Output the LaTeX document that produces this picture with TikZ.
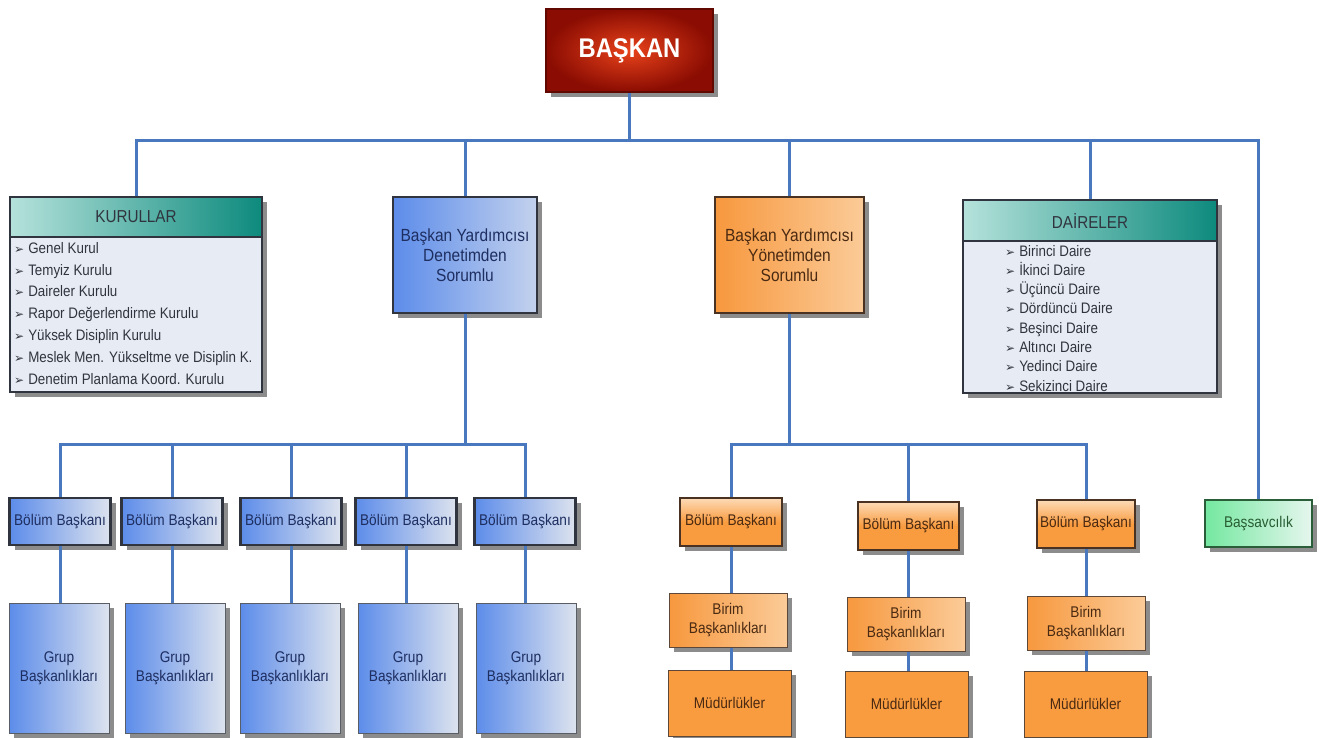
\documentclass[tikz,border=0pt]{standalone}
\usepackage{fontspec}
\setmainfont{Liberation Sans}[FakeStretch=0.88]
\newfontfamily\symf{DejaVu Sans}
\usetikzlibrary{shadows}
\definecolor{connc}{HTML}{4A78BE}
\definecolor{bdark}{HTML}{30343E}
\definecolor{blueL}{HTML}{5C8CEA}
\definecolor{blueR}{HTML}{DDE3EE}
\definecolor{navy}{HTML}{1E2E60}
\definecolor{brownt}{HTML}{4A2A12}
\definecolor{obord}{HTML}{4A3222}
\definecolor{orgL}{HTML}{F7983E}
\definecolor{orgR}{HTML}{FBCB98}
\definecolor{orgM}{HTML}{F99C40}
\definecolor{tealD}{HTML}{0D8A7D}
\definecolor{tealL}{HTML}{B5E2DB}
\definecolor{listbg}{HTML}{E7EBF3}
\definecolor{redD}{HTML}{8A0C02}
\definecolor{redL}{HTML}{E8421A}
\definecolor{grnL}{HTML}{74E8A0}
\definecolor{grnR}{HTML}{E6F6EE}
\definecolor{grnB}{HTML}{2A5E38}
\newcommand{\bul}{{\symf\fontsize{12}{12}\selectfont ➢}\hspace{4pt}}
\begin{document}
\begin{tikzpicture}[x=1pt,y=-1pt,
  conn/.style={draw=connc,line width=3pt},
  box/.style={rectangle,inner sep=0pt,align=center,font=\fontsize{15.5}{19.5}\selectfont},
  shad/.style={drop shadow={shadow xshift=5pt,shadow yshift=-5pt,fill=black,opacity=0.45}},
  bolumB/.style={box,shad,draw=bdark,line width=2.8pt,left color=blueL,right color=blueR,text=navy,minimum width=101,minimum height=47},
  grupB/.style={box,shad,draw=bdark!80,line width=1pt,left color=blueL,right color=blueR,text=navy,minimum width=100,minimum height=130},
  bolumO/.style={box,shad,draw=obord,line width=2.8pt,top color=orgR!70!white,bottom color=orgM,middle color=orgM,text=brownt,minimum height=48},
  birimO/.style={box,shad,draw=obord!90,line width=1pt,left color=orgL,right color=orgR,text=brownt,minimum width=118,minimum height=54},
  mudO/.style={box,shad,draw=obord!90,line width=1pt,fill=orgM,text=brownt,minimum width=123,minimum height=66},
  listbox/.style={box,shad,draw=bdark,line width=1.6pt,fill=listbg},
  header/.style={box,draw=bdark,line width=1.6pt,left color=tealL,right color=tealD,text=bdark,font=\fontsize{17.3}{18}\selectfont},
  item/.style={anchor=base west,inner sep=0pt,text=bdark,font=\fontsize{15.2}{16}\selectfont},
  vpbox/.style={box,shad,line width=2.8pt,minimum height=116,font=\fontsize{17.6}{20}\selectfont}
]
\useasboundingbox (0,0) rectangle (1319,738);

% top
\node[box,shad,draw=redD!70!black,line width=2.5pt,inner color=redL,outer color=redD,
  minimum width=167,minimum height=83,text=white,font=\fontsize{27}{28}\selectfont\bfseries] (baskan) at (629.5,50.5) {BAŞKAN};

% KURULLAR
\node[listbox,minimum width=252,minimum height=195] (kur) at (136,294.5) {};
\node[header,minimum width=252,minimum height=40] (kurh) at (136,217) {KURULLAR};
\node[item] (k1) at (14,253) {\bul Genel Kurul};
\node[item] (k2) at (14,275) {\bul Temyiz Kurulu};
\node[item] (k3) at (14,296.5) {\bul Daireler Kurulu};
\node[item] (k4) at (14,318.5) {\bul Rapor Değerlendirme Kurulu};
\node[item] (k5) at (14,340.5) {\bul Yüksek Disiplin Kurulu};
\node[item] (k6) at (14,362.5) {\bul Meslek Men. Yükseltme ve Disiplin K.};
\node[item] (k7) at (14,384.5) {\bul Denetim Planlama Koord. Kurulu};

% DAIRELER
\node[listbox,minimum width=254,minimum height=193] (dai) at (1090,296.5) {};
\node[header,minimum width=254,minimum height=41] (daih) at (1090,220.5) {DAİRELER};
\node[item] (d1) at (1005,256) {\bul Birinci Daire};
\node[item] (d2) at (1005,275.3) {\bul İkinci Daire};
\node[item] (d3) at (1005,294.6) {\bul Üçüncü Daire};
\node[item] (d4) at (1005,313.9) {\bul Dördüncü Daire};
\node[item] (d5) at (1005,333.2) {\bul Beşinci Daire};
\node[item] (d6) at (1005,352.5) {\bul Altıncı Daire};
\node[item] (d7) at (1005,371.8) {\bul Yedinci Daire};
\node[item] (d8) at (1005,391) {\bul Sekizinci Daire};

% vice presidents
\node[vpbox,draw=bdark,left color=blueL,right color=blueR!80!blueL,text=navy,minimum width=144] (den) at (465,255)
  {\\[-6pt]Başkan Yardımcısı\\Denetimden\\Sorumlu};
\node[vpbox,draw=obord,left color=orgL,right color=orgR,text=brownt,minimum width=149] (yon) at (789.5,255)
  {\\[-6pt]Başkan Yardımcısı\\Yönetimden\\Sorumlu};

% Başsavcılık
\node[box,shad,draw=grnB,line width=2.8pt,left color=grnL,right color=grnR,text=bdark!80!green,
  minimum width=107,minimum height=47] (bassav) at (1258.5,523.5) {Başsavcılık};

% blue Bölüm and Grup
\node[bolumB] (bb1) at (60,521.5) {Bölüm Başkanı};
\node[bolumB] (bb2) at (172,521.5) {Bölüm Başkanı};
\node[bolumB] (bb3) at (291,521.5) {Bölüm Başkanı};
\node[bolumB] (bb4) at (406,521.5) {Bölüm Başkanı};
\node[bolumB] (bb5) at (525,521.5) {Bölüm Başkanı};
\node[grupB] (g1) at (59,668) {Grup\\Başkanlıkları};
\node[grupB] (g2) at (175,668) {Grup\\Başkanlıkları};
\node[grupB] (g3) at (290,668) {Grup\\Başkanlıkları};
\node[grupB] (g4) at (408,668) {Grup\\Başkanlıkları};
\node[grupB] (g5) at (526,668) {Grup\\Başkanlıkları};

% orange Bölüm, Birim, Müdürlükler
\node[bolumO,minimum width=102] (ob1) at (731,522) {Bölüm Başkanı};
\node[bolumO,minimum width=101] (ob2) at (908.5,526) {Bölüm Başkanı};
\node[bolumO,minimum width=98] (ob3) at (1086,524) {Bölüm Başkanı};
\node[birimO] (bi1) at (728,620) {Birim\\Başkanlıkları};
\node[birimO] (bi2) at (906,624) {Birim\\Başkanlıkları};
\node[birimO] (bi3) at (1086,623) {Birim\\Başkanlıkları};
\node[mudO] (m1) at (729.5,703) {Müdürlükler};
\node[mudO] (m2) at (906.5,704) {Müdürlükler};
\node[mudO] (m3) at (1085.5,704) {Müdürlükler};

% connectors
\coordinate (bus0) at (629.5,141);
\coordinate (bus1) at (465,444);
\coordinate (bus2) at (789.5,444);
\draw[conn] (baskan.south) -- (bus0);
\draw[conn] (kurh.north) |- (bus0) -| (bassav.north);
\draw[conn] (den.north) -- (den.north |- bus0);
\draw[conn] (yon.north) -- (yon.north |- bus0);
\draw[conn] (daih.north) -- (daih.north |- bus0);

\draw[conn] (den.south) -- (bus1);
\draw[conn] (bb1.north) |- (bus1) -| (bb5.north);
\draw[conn] (bb2.north) -- (bb2.north |- bus1);
\draw[conn] (bb3.north) -- (bb3.north |- bus1);
\draw[conn] (bb4.north) -- (bb4.north |- bus1);
\foreach \i in {1,...,5}{\draw[conn] (bb\i.south) -- (bb\i.south |- g\i.north);}

\draw[conn] (yon.south) -- (bus2);
\draw[conn] (ob1.north) |- (bus2) -| (ob3.north);
\draw[conn] (ob2.north) -- (ob2.north |- bus2);
\foreach \i in {1,2,3}{
  \draw[conn] (ob\i.south) -- (ob\i.south |- bi\i.north);
  \draw[conn] (ob\i.south |- bi\i.south) -- (ob\i.south |- m\i.north);
}
\end{tikzpicture}
\end{document}
